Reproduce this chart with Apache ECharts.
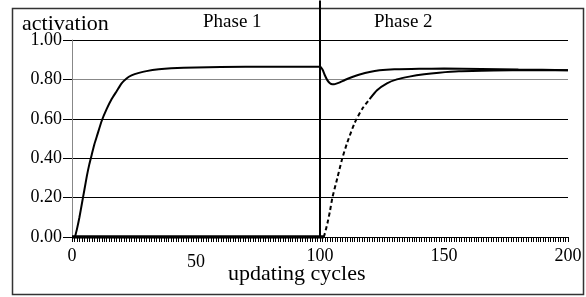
<!DOCTYPE html>
<html lang="en">
<head>
    <meta charset="UTF-8">
    <title>activation</title>
    <script type="text/javascript" src="https://cdn.jsdelivr.net/npm/echarts@6/dist/echarts.min.js"></script>
    <style>
        html, body { margin: 0; padding: 0; background: #fff; }
    </style>
</head>
<body>
    <div id="div_echars" style="width: 586px;height:297px;"></div>
    <script type="text/javascript">
        // unit 1: rises in phase 1, dips at the start of phase 2
        var unit1X = [1.2, 2, 3, 4, 5, 6, 7, 8, 9, 10, 12, 14, 16, 18, 20, 22, 24, 27, 30, 35, 40, 50, 60, 80, 100,
            101, 102, 103, 104, 105, 106, 108, 110, 113, 116, 120, 124, 130, 140, 150, 165, 180, 200];
        var unit1Y = [0, 0.04, 0.1, 0.17, 0.24, 0.31, 0.37, 0.42, 0.47, 0.51, 0.59, 0.65, 0.70, 0.74, 0.78, 0.805, 0.82, 0.833, 0.842, 0.851, 0.856, 0.861, 0.863, 0.864, 0.864,
            0.85, 0.82, 0.795, 0.78, 0.775, 0.776, 0.785, 0.797, 0.812, 0.825, 0.838, 0.846, 0.851, 0.854, 0.855, 0.853, 0.85, 0.847];
        // unit 2: silent in phase 1, rises in phase 2
        var unit2ZeroX = [0, 101.5];
        var unit2ZeroY = [0, 0];
        var unit2RiseX = [101.5, 102, 103, 104, 105, 107, 109, 111, 114, 117, 120];
        var unit2RiseY = [0, 0.02, 0.07, 0.13, 0.2, 0.3, 0.4, 0.48, 0.58, 0.65, 0.70];
        var unit2TailX = [120, 123, 127, 131, 136, 142, 148, 156, 170, 185, 200];
        var unit2TailY = [0.70, 0.745, 0.78, 0.80, 0.814, 0.826, 0.834, 0.841, 0.845, 0.847, 0.847];
        // phase boundary
        var phaseX = [100, 100];
        var phaseY = [0, 1.2];

        var yTicks = [0, 0.2, 0.4, 0.6, 0.8, 1.0];
        var xTicks = [0, 50, 100, 150, 200];

        function pairs(xs, ys) {
            var out = [];
            for (var i = 0; i < xs.length; i++) out.push([xs[i], ys[i]]);
            return out;
        }

        var serif = "'Liberation Serif', 'Times New Roman', serif";
        var myChart = echarts.init(document.getElementById('div_echars'));
        var option = {
            animation: false,
            grid: { left: 72, right: 18, top: 40, bottom: 60 },
            xAxis: {
                type: 'value',
                min: xTicks[0], max: xTicks[xTicks.length - 1], interval: 50,
                axisLine: { lineStyle: { color: '#000', width: 1 } },
                axisTick: { length: 5, lineStyle: { color: '#000' } },
                minorTick: { show: true, splitNumber: 50, length: 5, lineStyle: { color: '#000' } },
                splitLine: { show: false },
                axisLabel: {
                    color: '#000', fontFamily: serif, fontSize: 18, margin: 10,
                    formatter: function (v) { return v === 50 ? '{lo|50}' : String(v); },
                    rich: { lo: { color: '#000', fontFamily: serif, fontSize: 18, padding: [6, 0, 0, 0] } }
                }
            },
            yAxis: {
                type: 'value',
                min: yTicks[0], max: yTicks[yTicks.length - 1], interval: 0.2,
                axisLine: { show: true, lineStyle: { color: '#888', width: 1 } },
                axisTick: { show: true, length: 9, lineStyle: { color: '#000' } },
                splitLine: { lineStyle: { color: ['#000', '#000', '#000', '#000', '#888', '#000'], width: 1 } },
                axisLabel: {
                    color: '#000', fontFamily: serif, fontSize: 18, margin: 10,
                    formatter: function (v) { return v.toFixed(2); }
                }
            },
            series: [
                {
                    type: 'line', data: pairs(unit2ZeroX, unit2ZeroY), showSymbol: false,
                    lineStyle: { color: '#000', width: 3.5 }
                },
                {
                    type: 'line', data: pairs(unit2RiseX, unit2RiseY), showSymbol: false, smooth: 0.2,
                    lineStyle: { color: '#000', width: 2, type: [4, 3] }
                },
                {
                    type: 'line', data: pairs(unit2TailX, unit2TailY), showSymbol: false, smooth: 0.2,
                    lineStyle: { color: '#000', width: 2 }
                },
                {
                    type: 'line', data: pairs(unit1X, unit1Y), showSymbol: false, smooth: 0.2,
                    lineStyle: { color: '#000', width: 2 }
                },
                {
                    type: 'line', data: pairs(phaseX, phaseY), showSymbol: false, clip: false,
                    lineStyle: { color: '#000', width: 2 }
                }
            ],
            graphic: [
                {
                    type: 'rect', z: -1,
                    shape: { x: 12.5, y: 8.5, width: 571, height: 286 },
                    style: { fill: 'none', stroke: '#333', lineWidth: 1.5 }
                },
                {
                    type: 'text', left: 22, top: 13,
                    style: { text: 'activation', font: '22px ' + serif, fill: '#000' }
                },
                {
                    type: 'text', left: 203, top: 13,
                    style: { text: 'Phase 1', font: '19px ' + serif, fill: '#000' }
                },
                {
                    type: 'text', left: 374, top: 13,
                    style: { text: 'Phase 2', font: '19px ' + serif, fill: '#000' }
                },
                {
                    type: 'text', left: 228, top: 263,
                    style: { text: 'updating cycles', font: '22px ' + serif, fill: '#000' }
                }
            ]
        };
        myChart.setOption(option);
    </script>
</body>
</html>
